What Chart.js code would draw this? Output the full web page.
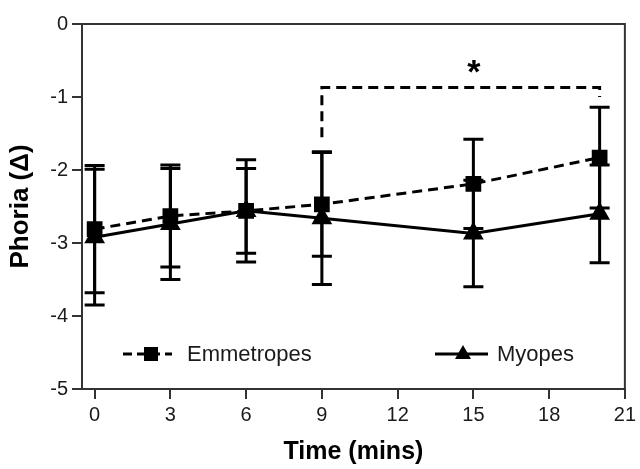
<!DOCTYPE html>
<html>
<head>
<meta charset="utf-8">
<script src="https://cdn.jsdelivr.net/npm/chart.js@4.4.1/dist/chart.umd.min.js"></script>
<style>
  html, body { margin: 0; padding: 0; background: #fff; }
</style>
</head>
<body>
<canvas id="phoriaChart" width="640" height="469"></canvas>
<script>
// time points (mins) and group means / SDs of phoria (prism dioptres)
const times = [0, 3, 6, 9, 15, 20];
const emmMean = [-2.81, -2.63, -2.56, -2.47, -2.19, -1.83];
const emmSD = [0.87, 0.70, 0.70, 0.71, 0.61, 0.69];
const myoMean = [-2.92, -2.74, -2.56, -2.66, -2.87, -2.60];
const myoSD = [0.93, 0.76, 0.58, 0.91, 0.73, 0.67];

const xTicks = [0, 3, 6, 9, 12, 15, 18, 21];
const yTicks = [0, -1, -2, -3, -4, -5];

// significance bracket between 9 and 20 mins
const sigFrom = 9;
const sigTo = 20;
const sigLevel = -0.87;
const sigLeftEnd = -1.55;
const sigRightEnd = -1.0;

const FONT = 'Arial, "Liberation Sans", Helvetica, sans-serif';

function toPoints(means) {
    return times.map((t, i) => ({ x: t, y: means[i] }));
}

const errorBars = {
    id: 'errorBars',
    afterDatasetsDraw(chart) {
        const { ctx, scales: { x, y } } = chart;
        ctx.save();
        ctx.strokeStyle = '#000';
        ctx.lineWidth = 3;
        ctx.setLineDash([]);
        [[emmMean, emmSD], [myoMean, myoSD]].forEach(([mean, sd]) => {
            times.forEach((t, i) => {
                const px = x.getPixelForValue(t);
                const top = y.getPixelForValue(mean[i] + sd[i]);
                const bot = y.getPixelForValue(mean[i] - sd[i]);
                ctx.beginPath();
                ctx.moveTo(px, top);
                ctx.lineTo(px, bot);
                ctx.moveTo(px - 10, top);
                ctx.lineTo(px + 10, top);
                ctx.moveTo(px - 10, bot);
                ctx.lineTo(px + 10, bot);
                ctx.stroke();
            });
        });
        ctx.restore();
    }
};

const frameAndNotes = {
    id: 'frameAndNotes',
    afterDraw(chart) {
        const { ctx, chartArea: a, scales: { x, y } } = chart;
        ctx.save();

        // top and right edges of the box
        ctx.strokeStyle = '#333';
        ctx.lineWidth = 2;
        ctx.beginPath();
        ctx.moveTo(a.left, a.top);
        ctx.lineTo(a.right, a.top);
        ctx.lineTo(a.right, a.bottom);
        ctx.stroke();

        // significance bracket
        const x1 = x.getPixelForValue(sigFrom);
        const x2 = x.getPixelForValue(sigTo);
        const yl = y.getPixelForValue(sigLevel);
        ctx.strokeStyle = '#000';
        ctx.lineWidth = 3;
        ctx.setLineDash([10, 6]);
        ctx.beginPath();
        ctx.moveTo(x1, y.getPixelForValue(sigLeftEnd));
        ctx.lineTo(x1, yl);
        ctx.lineTo(x2, yl);
        ctx.lineTo(x2, y.getPixelForValue(sigRightEnd));
        ctx.stroke();
        ctx.setLineDash([]);

        ctx.fillStyle = '#000';
        ctx.font = 'bold 34px ' + FONT;
        ctx.textAlign = 'center';
        ctx.textBaseline = 'middle';
        ctx.fillText('*', (x1 + x2) / 2 + 13, yl - 14);

        // legend inside the plot
        const ly = a.top + 330;
        ctx.font = '22px ' + FONT;
        ctx.textAlign = 'left';
        ctx.fillStyle = '#1a1a1a';

        ctx.strokeStyle = '#000';
        ctx.lineWidth = 3;
        ctx.setLineDash([9, 5]);
        ctx.beginPath();
        ctx.moveTo(a.left + 41, ly);
        ctx.lineTo(a.left + 90, ly);
        ctx.stroke();
        ctx.setLineDash([]);
        ctx.fillStyle = '#000';
        ctx.fillRect(a.left + 62, ly - 7, 14, 14);
        ctx.fillStyle = '#1a1a1a';
        ctx.fillText('Emmetropes', a.left + 105, ly + 1);

        ctx.beginPath();
        ctx.moveTo(a.left + 353, ly);
        ctx.lineTo(a.left + 406, ly);
        ctx.stroke();
        const tx = a.left + 381;
        ctx.fillStyle = '#000';
        ctx.beginPath();
        ctx.moveTo(tx, ly - 9);
        ctx.lineTo(tx + 8, ly + 5);
        ctx.lineTo(tx - 8, ly + 5);
        ctx.closePath();
        ctx.fill();
        ctx.fillStyle = '#1a1a1a';
        ctx.fillText('Myopes', a.left + 415, ly + 1);

        ctx.restore();
    }
};

const ctx = document.getElementById('phoriaChart').getContext('2d');

const phoriaChart = new Chart(ctx, {
    type: 'line',
    data: {
        datasets: [
            {
                label: 'Emmetropes',
                data: toPoints(emmMean),
                borderColor: '#000',
                backgroundColor: '#000',
                borderWidth: 3,
                borderDash: [10, 6],
                pointStyle: 'rect',
                pointRadius: 9,
                pointHoverRadius: 9,
                tension: 0
            },
            {
                label: 'Myopes',
                data: toPoints(myoMean),
                borderColor: '#000',
                backgroundColor: '#000',
                borderWidth: 3,
                pointStyle: 'triangle',
                pointRadius: 9,
                pointHoverRadius: 9,
                tension: 0
            }
        ]
    },
    options: {
        responsive: false,
        animation: false,
        layout: { padding: { top: 24, right: 10, left: 0, bottom: 0 } },
        plugins: {
            legend: { display: false },
            tooltip: { enabled: false }
        },
        scales: {
            x: {
                type: 'linear',
                min: -0.5,
                max: 21,
                afterBuildTicks: scale => {
                    scale.ticks = xTicks.map(v => ({ value: v }));
                },
                afterFit: scale => { scale.height = 80; },
                border: { color: '#333', width: 2 },
                grid: { drawOnChartArea: false, color: '#333', lineWidth: 2, tickLength: 10 },
                ticks: {
                    color: '#1a1a1a',
                    font: { family: FONT, size: 20 },
                    padding: 4,
                    maxRotation: 0
                },
                title: {
                    display: true,
                    text: 'Time (mins)',
                    color: '#000',
                    font: { family: FONT, size: 25, weight: 'bold' },
                    padding: { top: 0, bottom: 2 }
                }
            },
            y: {
                min: -5,
                max: 0,
                afterBuildTicks: scale => {
                    scale.ticks = yTicks.map(v => ({ value: v }));
                },
                afterFit: scale => { scale.width = 82; },
                border: { color: '#333', width: 2 },
                grid: { drawOnChartArea: false, color: '#333', lineWidth: 2, tickLength: 10 },
                ticks: {
                    color: '#1a1a1a',
                    font: { family: FONT, size: 20 },
                    padding: 4
                },
                title: {
                    display: true,
                    text: 'Phoria (Δ)',
                    color: '#000',
                    font: { family: FONT, size: 26, weight: 'bold' },
                    padding: { top: 5, bottom: 0 }
                }
            }
        }
    },
    plugins: [errorBars, frameAndNotes]
});
</script>
</body>
</html>
